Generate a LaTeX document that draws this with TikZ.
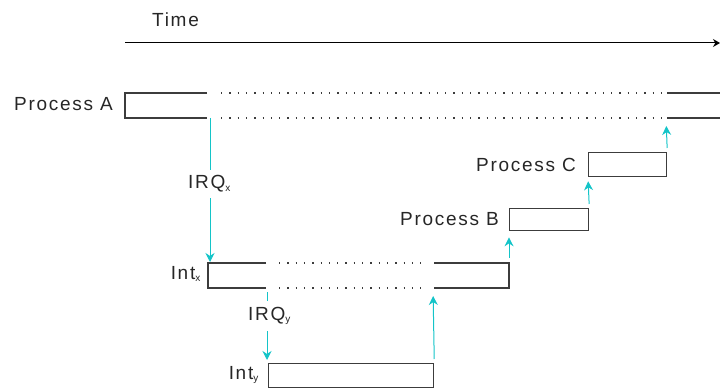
\documentclass[tikz,border=0pt]{standalone}
\usepackage{fontspec}
\setmainfont{Liberation Sans}[LetterSpace=9]
\usetikzlibrary{arrows.meta}
\definecolor{irqcol}{RGB}{20,196,200}
\definecolor{boxcol}{RGB}{60,60,60}
\tikzset{
  lbl/.style={font=\fontsize{19}{22}\selectfont, text=black!85, inner sep=0pt},
  solidln/.style={draw=boxcol, line width=1.3pt},
  dotln/.style={draw=boxcol, line width=1.3pt, dash pattern=on 1.3pt off 7pt},
  procbox/.style={draw=boxcol, line width=1.3pt, rectangle, inner sep=0pt},
  irqarrow/.style={draw=irqcol, line width=1pt, -{Stealth[length=9pt,width=9pt]}},
  cutlbl/.style={lbl, fill=white, inner ysep=6pt, inner xsep=1pt},
}
\newcommand{\subtxt}[1]{\textsubscript{\fontsize{10}{10}\selectfont #1}}
\begin{document}
\begin{tikzpicture}[x=1pt,y=-1pt]
\useasboundingbox (0,0) rectangle (720,390);
% Time axis
\node[lbl, anchor=west] (time) at (152,20) {Time};
\coordinate (t0) at (125,43);
\coordinate (t1) at (720,43);
\draw[black, line width=1pt, -{Stealth[length=7pt,width=8pt]}] (t0) -- (t1);
% Process A
\node[lbl, anchor=east] (pal) at (113,104) {Process A};
\draw[solidln] (207,93) -- (125,93) -- (125,118) -- (207,118);
\draw[dotln] (221,93) -- (663,93);
\draw[dotln] (221,118) -- (663,118);
\draw[solidln] (667,93) -- (720,93);
\draw[solidln] (667,118) -- (720,118);
\coordinate (pa-irq) at (210,118);
\coordinate (pa-ret) at (666,118);
% Int x
\node[lbl, anchor=east] (ixl) at (201,274) {Int\subtxt{x}};
\draw[solidln] (266,263) -- (208,263) -- (208,288) -- (266,288);
\draw[dotln] (279,263) -- (426,263);
\draw[dotln] (279,288) -- (426,288);
\draw[solidln] (434,263) -- (509,263) -- (509,288) -- (434,288);
\coordinate (ix-top) at (210,263);
\coordinate (ix-irq) at (267,288);
\coordinate (ix-ret) at (433,288);
\coordinate (ix-end) at (509,263);
% Int y
\node[procbox, minimum width=165pt, minimum height=24pt, anchor=north west] (iy) at (268,363) {};
\node[lbl, anchor=east] (iyl) at (259,375) {Int\subtxt{y}};
% Process B, C
\node[procbox, minimum width=79pt, minimum height=22pt, anchor=north west] (pb) at (509,208) {};
\node[lbl, anchor=east] (pbl) at (499,219) {Process B};
\node[procbox, minimum width=78pt, minimum height=24pt, anchor=north west] (pc) at (588,152) {};
\node[lbl, anchor=east] (pcl) at (576,165) {Process C};
% IRQ x
\draw[irqarrow, shorten >=1pt] (pa-irq) -- (ix-top);
\node[cutlbl, anchor=west] (irqx) at (187,184) {IRQ\subtxt{x}};
% IRQ y
\draw[irqarrow, shorten <=4pt, shorten >=3pt] (ix-irq) -- (iy.north west -| ix-irq);
\node[cutlbl, anchor=west] (irqy) at (247,316) {IRQ\subtxt{y}};
% returns
\draw[irqarrow, shorten <=4pt, shorten >=8pt] (iy.north east) -- (ix-ret);
\draw[irqarrow, shorten <=5pt, shorten >=6pt] (ix-end) -- (pb.south west);
\draw[irqarrow, shorten <=4pt, shorten >=4pt] (pb.north east) -- (pc.south west);
\draw[irqarrow, shorten <=4pt, shorten >=8pt] (pc.north east) -- (pa-ret);
\end{tikzpicture}
\end{document}
